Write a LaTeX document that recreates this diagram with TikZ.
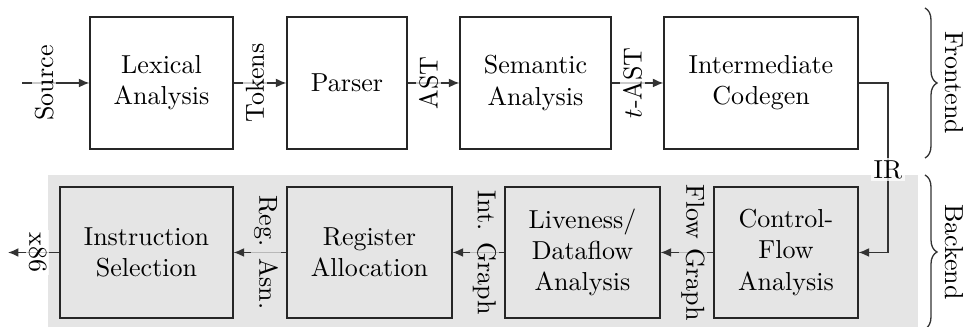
\documentclass[tikz,border=0pt]{standalone}
\usetikzlibrary{arrows.meta,decorations.pathreplacing}
\def\pxu{0.3846pt}
\begin{document}
\begin{tikzpicture}[x=0.3846pt,y=-0.3846pt,
  stage/.style={draw=black!85, align=center, inner sep=2pt, line width=0.5pt},
  toprow/.style={stage, minimum height=132*\pxu},
  botrow/.style={stage, minimum height=131*\pxu},
  arr/.style={draw=black!80, line width=0.5pt, -{Latex[length=4pt,width=3.4pt]}},
  lbl/.style={fill=white, fill opacity=0.75, text opacity=1, inner sep=1pt},
  tlbl/.style={lbl, xshift=-5*\pxu, rotate=90},
  blbl/.style={lbl, fill=gray!20, xshift=6*\pxu, rotate=-90},
  brc/.style={decorate, decoration={brace, amplitude=12*\pxu}, draw=black!80, line width=0.5pt}]
\useasboundingbox (0,0) rectangle (967,327);
\fill[gray!20] (48,175) rectangle (918,340);
% top row
\node[toprow, minimum width=143*\pxu] (lex) at (161.5,83) {Lexical\\Analysis};
\node[toprow, minimum width=120*\pxu] (parser) at (347,83) {Parser};
\node[toprow, minimum width=151*\pxu] (sem) at (535.5,83) {Semantic\\Analysis};
\node[toprow, minimum width=194*\pxu] (inter) at (761,83) {Intermediate\\Codegen};
% bottom row
\node[botrow, minimum width=173*\pxu] (isel) at (146.5,252.5) {Instruction\\Selection};
\node[botrow, minimum width=165*\pxu] (ralloc) at (369.5,252.5) {Register\\Allocation};
\node[botrow, minimum width=155*\pxu] (live) at (582.5,252.5) {Liveness/\\Dataflow\\Analysis};
\node[botrow, minimum width=144*\pxu] (cfa) at (786,252.5) {Control-\\Flow\\Analysis};
% top connectors
\coordinate (src) at (22,83);
\draw[arr] (src) -- (lex) node[lbl, pos=0.33, rotate=90] {Source};
\draw[arr] (lex) -- (parser) node[tlbl, midway] {Tokens};
\draw[arr] (parser) -- (sem) node[tlbl, midway] {AST};
\draw[arr] (sem) -- (inter) node[tlbl, midway] {$t$-AST};
% IR
\coordinate (ir1) at (888,83);
\coordinate (ir2) at (888,252.5);
\draw[arr] (inter.east) -- (ir1) -- node[lbl, pos=0.51] {IR} (ir2) -- (cfa.east);
% bottom connectors
\draw[arr] (cfa) -- (live) node[blbl, midway] {Flow Graph};
\draw[arr] (live) -- (ralloc) node[blbl, midway] {Int. Graph};
\draw[arr] (ralloc) -- (isel) node[blbl, midway] {Reg. Asn.};
\coordinate (out) at (8,252.5);
\draw[arr] (isel) -- (out) node[lbl, pos=0.42, rotate=-90] {x86};
% braces
\coordinate (fb1) at (925,8);
\coordinate (fb2) at (925,158);
\coordinate (bb1) at (925,175);
\coordinate (bb2) at (925,329);
\draw[brc] (fb1) -- (fb2);
\draw[brc] (bb1) -- (bb2);
\node[rotate=-90] (fe) at (954,83) {Frontend};
\node[rotate=-90] (be) at (954,252) {Backend};
\end{tikzpicture}
\end{document}
